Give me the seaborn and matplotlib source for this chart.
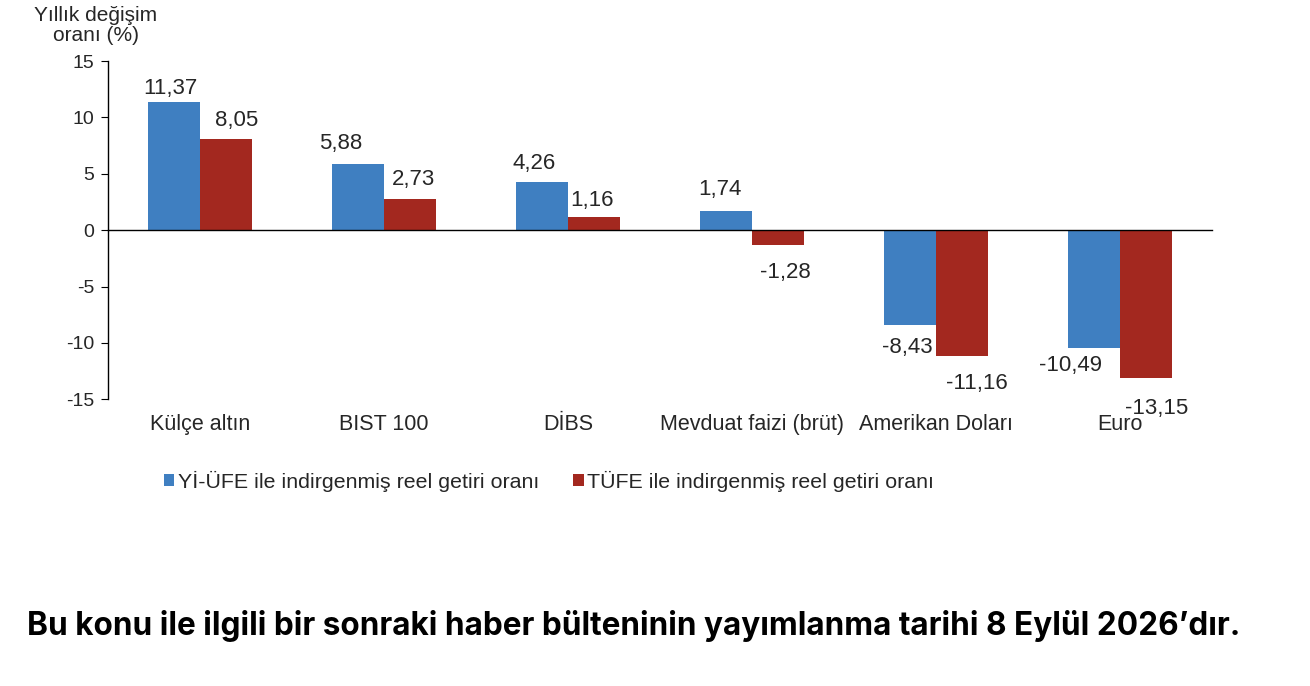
import matplotlib
matplotlib.use('Agg')
import matplotlib.pyplot as plt
import matplotlib.transforms as mtransforms
import seaborn as sns
import pandas as pd

# veriler
kategoriler = ['Külçe altın', 'BIST 100', 'DİBS', 'Mevduat faizi (brüt)',
               'Amerikan Doları', 'Euro']
seriler = ['Yİ-ÜFE ile indirgenmiş reel getiri oranı',
           'TÜFE ile indirgenmiş reel getiri oranı']
yi_ufe = [11.37, 5.88, 4.26, 1.74, -8.43, -10.49]
tufe = [8.05, 2.73, 1.16, -1.28, -11.16, -13.15]
y_ticks = [15, 10, 5, 0, -5, -10, -15]

renkler = ['#3F7FC1', '#A3281F']

# etiketlerin elle kaydirmasi (piksel, x saga, y asagi) - orijinaldeki gibi
kayma_yi = [(-4, 3), (-17, -4), (-8, -3), (-6, -5), (-3, 6), (-23, 1)]
kayma_tufe = [(11, -3), (4, -4), (-2, -1), (7, 12), (15, 11), (11, 14)]

bd = pd.DataFrame({
    'kategori': kategoriler * 2,
    'seri': [seriler[0]] * len(kategoriler) + [seriler[1]] * len(kategoriler),
    'deger': yi_ufe + tufe,
})

sns.set_style('white')
plt.rcParams['font.family'] = ['Liberation Sans', 'DejaVu Sans']

fig = plt.figure(figsize=(13.1, 6.86), dpi=100)
ax = fig.add_axes([0.0824, 0.418, 0.8427, 0.493])

sns.barplot(data=bd, x='kategori', y='deger', hue='seri', palette=renkler,
            width=0.565, saturation=1, linewidth=0, ax=ax, legend=True)

ax.set_ylim(-15, 15)
ax.set_xlim(-0.5, len(kategoriler) - 0.5)
ax.set_yticks(y_ticks)
ax.set_yticklabels([str(t) for t in y_ticks], fontsize=14)
ax.set_xlabel('')
ax.set_ylabel('')

# x ekseni sifirda
ax.spines['top'].set_visible(False)
ax.spines['right'].set_visible(False)
ax.spines['bottom'].set_position(('data', 0))
for s in ['left', 'bottom']:
    ax.spines[s].set_color('black')
    ax.spines[s].set_linewidth(1.0)
ax.set_xticks([i + 0.5 for i in range(-1, len(kategoriler))])
ax.set_xticklabels([])
ax.tick_params(axis='x', direction='out', length=5, color='black')
ax.tick_params(axis='y', direction='out', length=5, color='black', left=True, pad=5)

tr = mtransforms.blended_transform_factory(ax.transData, ax.transAxes)
for i, k in enumerate(kategoriler):
    ax.text(i, -0.075, k, transform=tr, ha='center', va='center', fontsize=15.5)

for cont, kayma in zip(ax.containers, [kayma_yi, kayma_tufe]):
    etiket = [f'{b.get_height():.2f}'.replace('.', ',') for b in cont]
    anns = ax.bar_label(cont, labels=etiket, padding=4, fontsize=16)
    for a, (dx, dy) in zip(anns, kayma):
        x0, y0 = a.xyann
        a.xyann = (x0 + dx * 0.72, y0 - dy * 0.72)

leg = ax.legend(loc='upper left', bbox_to_anchor=(0.033, -0.155), ncol=2,
                frameon=False, fontsize=15.4, handlelength=0.5, handleheight=0.5,
                handletextpad=0.15, columnspacing=1.6)

fig.text(0.073, 0.963, 'Yıllık değişim\noranı (%)', ha='center', va='center',
         fontsize=15, linespacing=1.1)

fig.text(0.0205, 0.088,
         'Bu konu ile ilgili bir sonraki haber bülteninin yayımlanma tarihi 8 Eylül 2026’dır.',
         ha='left', va='center', fontsize=22.7, fontweight='bold', color='black',
         family=['Inter', 'DejaVu Sans'])

fig.savefig('out.png', dpi=100, facecolor='white')
